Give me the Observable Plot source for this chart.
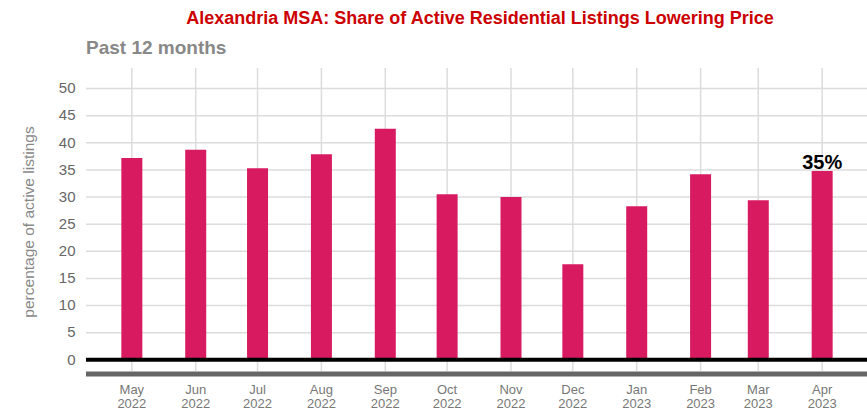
<!DOCTYPE html>
<html>
<head>
<meta charset="utf-8">
<script src="https://cdn.jsdelivr.net/npm/d3@7"></script>
<script src="https://cdn.jsdelivr.net/npm/@observablehq/plot@0.6"></script>
<style>
  html, body { margin: 0; padding: 0; background: #fff; }
  body { width: 867px; height: 412px; position: relative; overflow: hidden; font-family: "Liberation Sans", Arial, sans-serif; }
  #title { position: absolute; top: 7px; left: 93px; width: 774px; text-align: center; font-size: 18px; line-height: 22px; font-weight: bold; color: #cc0000; }
  #subtitle { position: absolute; top: 37px; left: 86px; font-size: 19px; line-height: 22px; font-weight: bold; color: #888; }
  #chart { position: absolute; top: 60px; left: 0; }
</style>
</head>
<body>
<div id="title">Alexandria MSA: Share of Active Residential Listings Lowering Price</div>
<div id="subtitle">Past 12 months</div>
<div id="chart"></div>
<script>
const months = ["2022-05-01","2022-06-01","2022-07-01","2022-08-01","2022-09-01","2022-10-01","2022-11-01","2022-12-01","2023-01-01","2023-02-01","2023-03-01","2023-04-01"];
const values = [37.1, 38.6, 35.2, 37.8, 42.5, 30.4, 29.9, 17.5, 28.2, 34.1, 29.3, 34.7];
const yTicks = [0, 5, 10, 15, 20, 25, 30, 35, 40, 45, 50];
const yLabel = "percentage of active listings";

const dates = months.map(d => new Date(d + "T00:00:00Z"));
const data = dates.map((d, i) => ({date: d, value: values[i]}));
const last = data[data.length - 1];
const yMin = -2.16, yMax = 53.69;
const fmtMonth = d3.utcFormat("%b");
const fmtYear = d3.utcFormat("%Y");

const chart = Plot.plot({
  width: 867,
  height: 352,
  marginLeft: 86,
  marginRight: 0,
  marginTop: 8,
  marginBottom: 41,
  style: {fontFamily: "'Liberation Sans', Arial, sans-serif", background: "#fff", overflow: "visible"},
  x: {type: "utc", domain: [new Date("2022-04-09T00:00:00Z"), new Date("2023-04-23T00:00:00Z")]},
  y: {domain: [yMin, yMax]},
  marks: [
    Plot.gridY(yTicks, {stroke: "#dcdcdc", strokeOpacity: 1, strokeWidth: 1.5}),
    Plot.gridX(dates, {stroke: "#dcdcdc", strokeOpacity: 1, strokeWidth: 1.5}),
    Plot.ruleX(data, {x: "date", y1: 0, y2: "value", stroke: "#d81b60", strokeWidth: 21}),
    Plot.ruleY([0], {stroke: "#000", strokeWidth: 4}),
    Plot.ruleY([yMin], {stroke: "#666", strokeWidth: 5, dy: 2.5}),
    Plot.axisY(yTicks, {tickSize: 0, tickPadding: 11, fontSize: 15, fill: "#666", label: null}),
    Plot.axisX(dates, {tickSize: 0, tickPadding: 12, fontSize: 13, fill: "#777", lineHeight: 1.12, label: null,
      tickFormat: d => fmtMonth(d) + "\n" + fmtYear(d)}),
    Plot.text([yLabel], {frameAnchor: "left", textAnchor: "middle", dx: -57, dy: 2, rotate: -90, fontSize: 15.5, fill: "#888"}),
    Plot.text([last], {x: "date", y: "value", text: d => Math.round(d.value) + "%", lineAnchor: "bottom", dy: -3, fontSize: 20, fontWeight: "bold", fill: "#000"})
  ]
});
document.getElementById("chart").appendChild(chart);
</script>
</body>
</html>
